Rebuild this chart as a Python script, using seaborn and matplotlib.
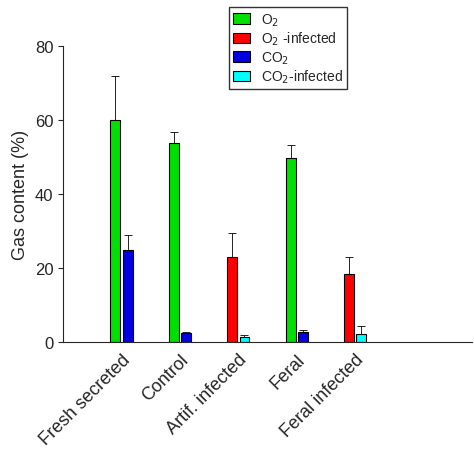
import numpy as np
import matplotlib
matplotlib.use("Agg")
import matplotlib.pyplot as plt
import seaborn as sns

categories = ["Fresh secreted", "Control", "Artif. infected", "Feral", "Feral infected"]
o2 = [60.0, 53.8, np.nan, 49.8, np.nan]
o2_err = [12.0, 3.0, np.nan, 3.4, np.nan]
o2_inf = [np.nan, np.nan, 23.0, np.nan, 18.5]
o2_inf_err = [np.nan, np.nan, 6.4, np.nan, 4.5]
co2 = [25.0, 2.4, np.nan, 2.8, np.nan]
co2_err = [4.0, 0.4, np.nan, 0.4, np.nan]
co2_inf = [np.nan, np.nan, 1.5, np.nan, 2.2]
co2_inf_err = [np.nan, np.nan, 0.5, np.nan, 2.1]

sns.set_style("ticks")
plt.rcParams['font.family'] = ['Liberation Sans', 'DejaVu Sans']

fig = plt.figure(figsize=(4.74, 4.52), dpi=100)
ax = fig.add_axes([0.133, 0.241, 0.863, 0.655])

x = np.arange(1, len(categories) + 1)
w, off = 0.17, 0.105
series = [
    (o2, o2_err, -off, "#00e000", "O$_2$"),
    (o2_inf, o2_inf_err, -off, "#ff0000", "O$_2$ -infected"),
    (co2, co2_err, off, "#0000e0", "CO$_2$"),
    (co2_inf, co2_inf_err, off, "#00ffff", "CO$_2$-infected"),
]
for vals, errs, dx, col, lab in series:
    vals = np.array(vals)
    errs = np.array(errs)
    ax.bar(x + dx, vals, width=w, color=col, edgecolor="black", linewidth=0.8, label=lab)
    ax.errorbar(x + dx, vals, yerr=[np.zeros_like(errs), errs], fmt="none",
                ecolor="black", elinewidth=0.6, capsize=3, capthick=0.6)

ax.set_xlim(0, 7)
ax.set_ylim(0, 80)
ax.set_yticks([0, 20, 40, 60, 80])
ax.set_xticks(x)
ax.set_xticklabels(categories, rotation=45, ha="right", rotation_mode="anchor", fontsize=13)
ax.tick_params(axis="x", length=0, pad=6)
ax.tick_params(axis="y", labelsize=12)
ax.set_ylabel("Gas content (%)", fontsize=13)
sns.despine(ax=ax)

ax.legend(loc="upper center", bbox_to_anchor=(0.55, 1.155), fontsize=10, frameon=True,
          fancybox=False, edgecolor="black", handlelength=1.2, handleheight=0.8,
          borderpad=0.3, labelspacing=0.15)

fig.savefig("out.png", dpi=100)
